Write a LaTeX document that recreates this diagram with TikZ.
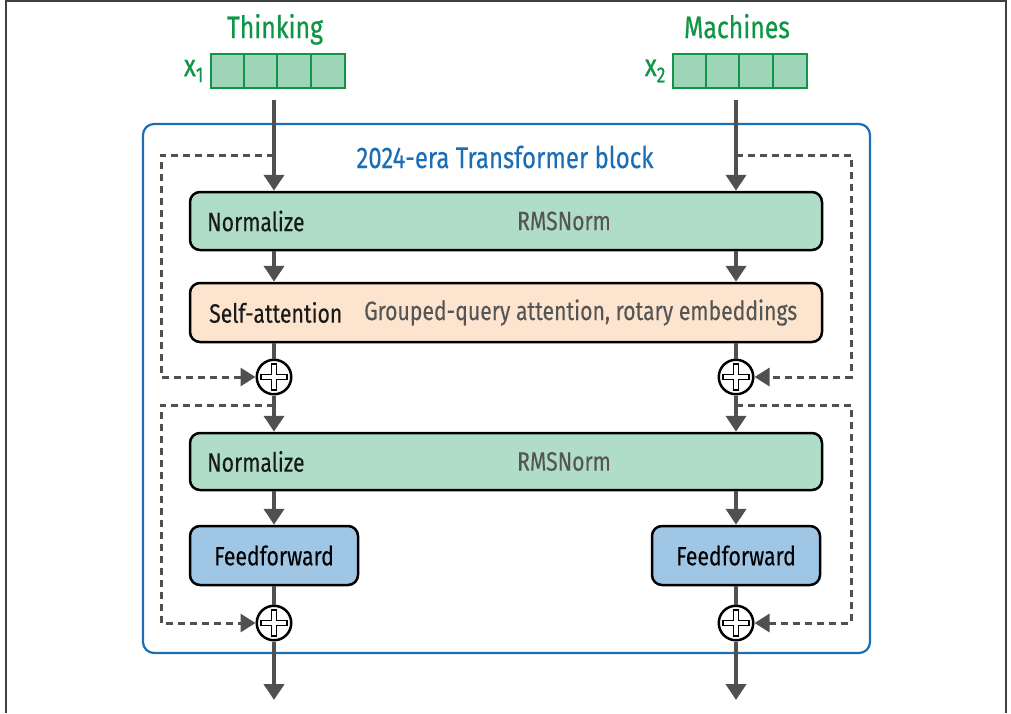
\documentclass[tikz,border=0pt]{standalone}
\usepackage{fontspec}
\setmainfont{Fira Sans}[FakeStretch=0.8]
\usetikzlibrary{arrows.meta,positioning}

\definecolor{tokgreen}{RGB}{14,150,70}
\definecolor{tokfill}{RGB}{158,212,183}
\definecolor{normfill}{RGB}{176,221,200}
\definecolor{attnfill}{RGB}{252,228,206}
\definecolor{fffill}{RGB}{160,198,230}
\definecolor{blockblue}{RGB}{28,110,180}
\definecolor{flowgray}{RGB}{80,80,80}
\definecolor{notegray}{RGB}{85,85,85}

\newcommand{\diagfont}{\fontsize{26.5}{30}\selectfont\addfontfeature{FakeBold=0.15}}

\tikzset{
	flowline/.style={draw=flowgray, line width=4pt},
	flow/.style={flowline, -{Triangle[width=20pt,length=16pt]}},
	skip/.style={draw=flowgray, line width=3pt, dash pattern=on 7pt off 5pt, -{Triangle[width=18pt,length=15pt]}},
	stage/.style={draw=black, line width=2.5pt, rounded corners=10pt, minimum height=58pt, inner sep=0pt, font=\diagfont},
	boxlabel/.style={inner sep=0pt, font=\diagfont, text=black!90},
	notelabel/.style={inner sep=0pt, font=\diagfont, text=notegray},
	toklabel/.style={inner sep=0pt, font=\fontsize{31}{34}\selectfont\addfontfeature{FakeBold=0.6}, text=tokgreen},
	vecbox/.style={draw=tokgreen, fill=tokfill, line width=1.8pt, minimum width=134pt, minimum height=34pt, inner sep=0pt},
	addnode/.style={circle, draw=black, line width=2.5pt, fill=white, minimum size=34.5pt, inner sep=0pt,
		path picture={\draw[line width=1.5pt, fill=white, shift={(path picture bounding box.center)}]
			(-2.4pt,-13pt) -- (2.4pt,-13pt) -- (2.4pt,-2.4pt) -- (13pt,-2.4pt) -- (13pt,2.4pt) -- (2.4pt,2.4pt)
			-- (2.4pt,13pt) -- (-2.4pt,13pt) -- (-2.4pt,2.4pt) -- (-13pt,2.4pt) -- (-13pt,-2.4pt) -- (-2.4pt,-2.4pt) -- cycle;}}
}

\begin{document}
\begin{tikzpicture}[x=1pt, y=-1pt]
	\useasboundingbox (0,0) rectangle (1011,713);
	
	% frame
	\draw[line width=2pt, black!75] (6,713) |- (1006,1) -- (1006,713);
	
	% outer block
	\node[draw=blockblue, line width=2.2pt, rounded corners=11pt, minimum width=727pt, minimum height=529pt] (blk) at (506.5,388.5) {};
	\node[inner sep=0pt, font=\fontsize{30}{32}\selectfont\addfontfeature{FakeBold=0.3}, text=blockblue] (ttl) at (505,157) {2024-era Transformer block};
	
	% token vectors
	\node[vecbox] (v1) at (278,71) {};
	\node[vecbox] (v2) at (740,71) {};
	\foreach \v in {v1,v2}
		\foreach \k in {1,2,3}
			\draw[tokgreen, line width=1.8pt] ([xshift=\k*33.5pt]\v.south west) -- ([xshift=\k*33.5pt]\v.north west);
	\node[toklabel, anchor=base] (w1) at ([xshift=-3pt,yshift=15pt]v1.north) {Thinking};
	\node[toklabel, anchor=base] (w2) at ([xshift=-3pt,yshift=15pt]v2.north) {Machines};
	\node[toklabel, left=6pt of v1] (x1) {x\textsubscript{1}};
	\node[toklabel, left=6pt of v2] (x2) {x\textsubscript{2}};
	
	% stages
	\node[stage, fill=normfill, minimum width=632pt] (n1) at (506,221) {};
	\node[boxlabel, anchor=west] (n1t) at (207,221) {Normalize};
	\node[notelabel] (n1d) at (564,221) {RMSNorm};
	
	\node[stage, fill=attnfill, minimum width=632pt, minimum height=59pt] (sa) at (506,312.5) {};
	\node[boxlabel, anchor=west] (sat) at (209,312.5) {Self-attention};
	\node[notelabel, anchor=west] (sad) at (364,312.5) {Grouped-query attention, rotary embeddings};
	
	\node[stage, fill=normfill, minimum width=632pt, minimum height=57pt] (n2) at (506,461.5) {};
	\node[boxlabel, anchor=west] (n2t) at (207,461.5) {Normalize};
	\node[notelabel] (n2d) at (564,461.5) {RMSNorm};
	
	\node[stage, fill=fffill, minimum width=168pt, minimum height=59pt] (ff1) at (274,555.5) {Feedforward};
	\node[stage, fill=fffill, minimum width=168pt, minimum height=59pt] (ff2) at (736,555.5) {Feedforward};
	
	% residual adds
	\node[addnode] (p1) at (274,377) {};
	\node[addnode] (p2) at (736,377) {};
	\node[addnode] (q1) at (274,623) {};
	\node[addnode] (q2) at (736,623) {};
	
	% main flow
	\coordinate (in1) at (274,100);
	\coordinate (in2) at (736,100);
	\coordinate (out1) at (274,700);
	\coordinate (out2) at (736,700);
	\foreach \c/\p/\q/\f/\o in {in1/p1/q1/ff1/out1, in2/p2/q2/ff2/out2}{
		\draw[flow] (\c) -- (\c |- n1.north);
		\draw[flow] (n1.south -| \c) -- (sa.north -| \c);
		\draw[flowline] (sa.south -| \p) -- (\p);
		\draw[flow] (\p) -- (n2.north -| \p);
		\draw[flow] (n2.south -| \f) -- (\f);
		\draw[flowline] (\f) -- (\q);
		\draw[flow] (\q) -- (\o);
	}
	
	% skip connections
	\coordinate (s1) at (274,155);
	\coordinate (s2) at (736,155);
	\coordinate (s3) at (274,405);
	\coordinate (s4) at (736,405);
	\draw[skip] (s1) -- ++(-113,0) |- (p1);
	\draw[skip] (s3) -- ++(-113,0) |- (q1);
	\draw[skip] (s2) -- ++(115,0) |- (p2);
	\draw[skip] (s4) -- ++(115,0) |- (q2);
\end{tikzpicture}
\end{document}
